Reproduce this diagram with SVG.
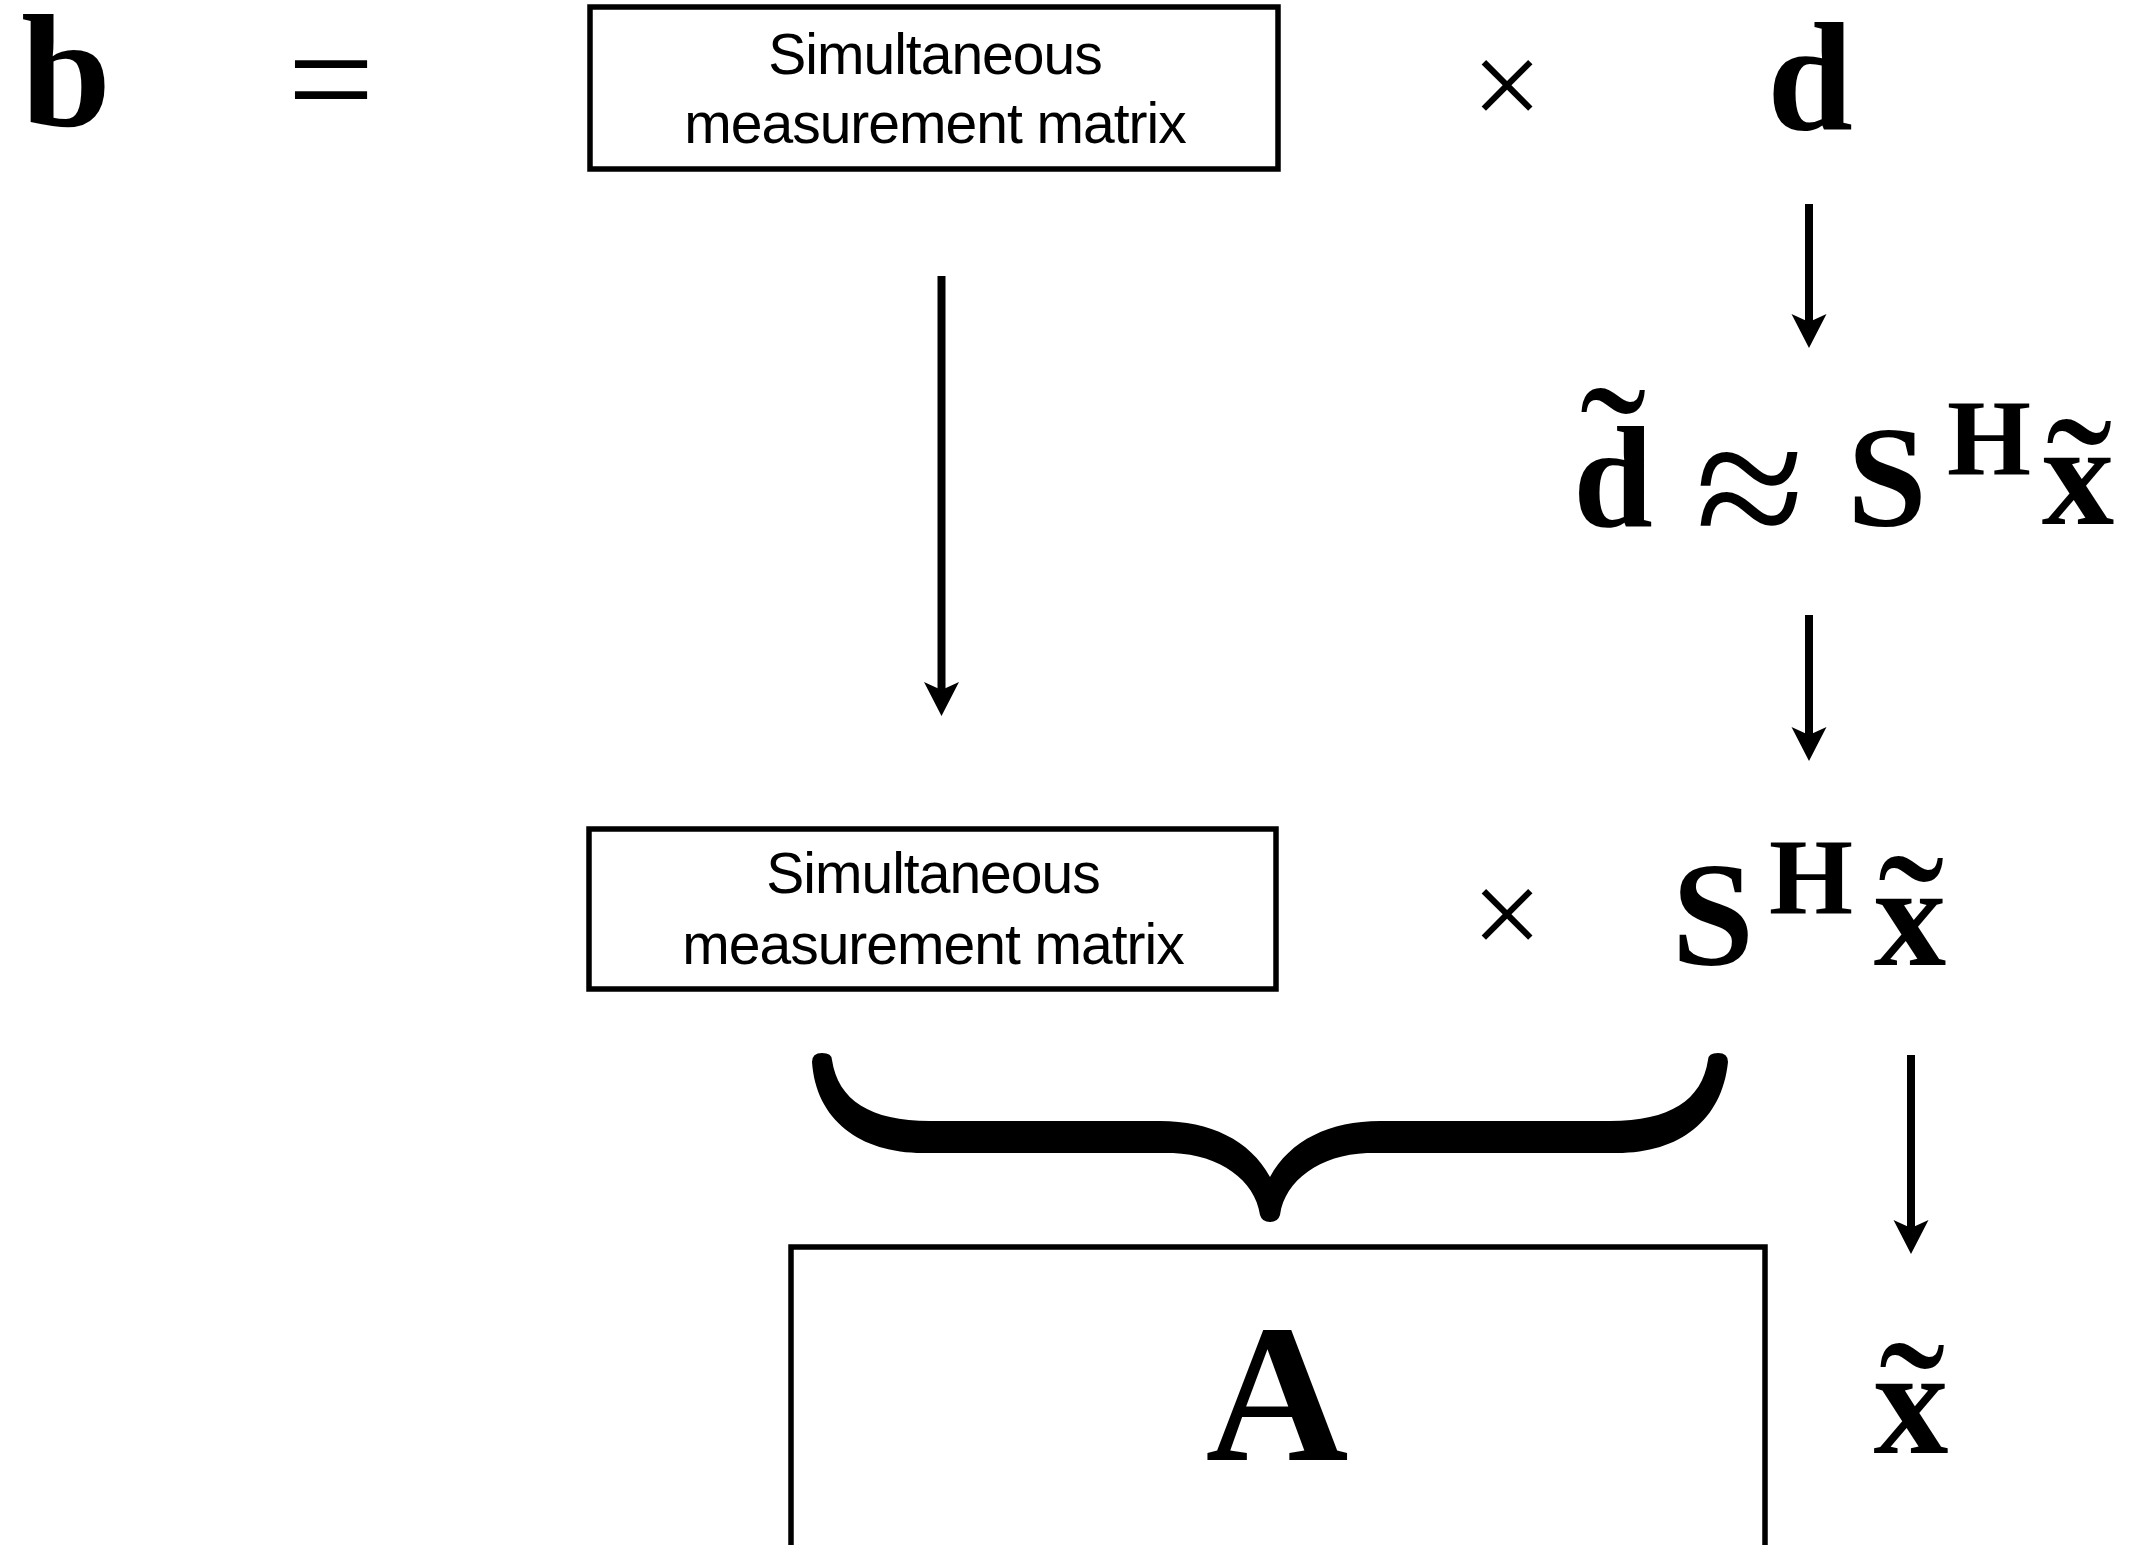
<svg xmlns="http://www.w3.org/2000/svg" width="2147" height="1545" viewBox="0 0 2147 1545">
<defs>
<style>
.box{fill:#fff;stroke:#000;stroke-width:5.5}
.lbl{font-family:"Liberation Sans",Arial,sans-serif;font-size:57px;letter-spacing:-1px;fill:#000;text-anchor:middle}
.m{font-family:"Liberation Serif","Times New Roman",serif;font-weight:bold;fill:#000;text-anchor:middle}
.op{font-family:"Liberation Serif","Times New Roman",serif;fill:#000;text-anchor:middle}
.tl{font-weight:normal;font-size:200px}
.conn{stroke:#000;stroke-width:8;fill:none;marker-end:url(#ah)}
</style>
<marker id="ah" markerUnits="userSpaceOnUse" markerWidth="36" markerHeight="36" viewBox="0 0 36 36" refX="8" refY="18" orient="auto">
<path d="M34 18 L0 0.5 L8 18 L0 35.5 Z" fill="#000"/>
</marker>
</defs>
<rect width="2147" height="1545" fill="#fff"/>

<g id="connectors">
<line class="conn" x1="941.5" y1="276" x2="941.5" y2="690"/>
<line class="conn" x1="1809" y1="204" x2="1809" y2="322"/>
<line class="conn" x1="1809" y1="615" x2="1809" y2="735"/>
<line class="conn" x1="1911" y1="1055" x2="1911" y2="1228"/>
</g>

<g id="node-b"><text class="m" x="66" y="126" font-size="162">b</text></g>
<g id="node-eq"><text class="op" x="331" y="131" font-size="155">=</text></g>

<g id="node-box1">
<rect class="box" x="590" y="7" width="688" height="162"/>
<text class="lbl" x="935" y="74">Simultaneous</text>
<text class="lbl" x="935" y="143">measurement matrix</text>
</g>
<g id="node-times1"><text class="op" x="1507" y="127" font-size="125">×</text></g>
<g id="node-d"><text class="m" x="1810" y="130" font-size="154">d</text></g>

<g id="node-dtilde-approx">
<text class="m" x="1613" y="526" font-size="143">d<tspan class="tl" x="1613" y="523">˜</tspan></text>
<text class="op" x="1750" y="555" font-size="200">≈</text>
<text class="m" x="1887" y="526" font-size="143">S<tspan x="1989" y="475" font-size="108">H</tspan><tspan x="2078" y="524" font-size="145">x</tspan><tspan class="tl" x="2079" y="554">˜</tspan></text>
</g>

<g id="node-box2">
<rect class="box" x="589" y="829" width="687" height="160"/>
<text class="lbl" x="933" y="893">Simultaneous</text>
<text class="lbl" x="933" y="964">measurement matrix</text>
</g>
<g id="node-times2"><text class="op" x="1507" y="956" font-size="125">×</text></g>

<g id="node-SHx">
<text class="m" x="1713" y="965" font-size="148">S<tspan x="1811" y="914" font-size="108">H</tspan><tspan x="1910" y="965" font-size="145">x</tspan><tspan class="tl" x="1911" y="991">˜</tspan></text>
</g>

<g id="node-brace">
<path fill="#000" d="M812 1062 Q812 1053 822 1053 Q832 1053 832 1060 C838 1100 870 1121 930 1121 L1160 1121 C1210 1121 1250 1140 1270 1177 C1290 1140 1330 1121 1380 1121 L1610 1121 C1670 1121 1702 1100 1708 1060 Q1708 1053 1718 1053 Q1728 1053 1728 1062 C1722 1120 1680 1153 1617 1153 L1367 1153 C1320 1155 1285 1180 1280 1215 Q1278 1222 1270 1222 Q1262 1222 1260 1215 C1255 1180 1220 1155 1173 1153 L923 1153 C860 1153 816 1120 812 1062 Z"/>
</g>

<g id="node-A">
<rect class="box" x="791" y="1247" width="974" height="320"/>
<text class="m" x="1277" y="1460" font-size="198">A</text>
</g>

<g id="node-xtilde">
<text class="m" x="1911" y="1453" font-size="150">x<tspan class="tl" x="1912" y="1478">˜</tspan></text>
</g>
</svg>
